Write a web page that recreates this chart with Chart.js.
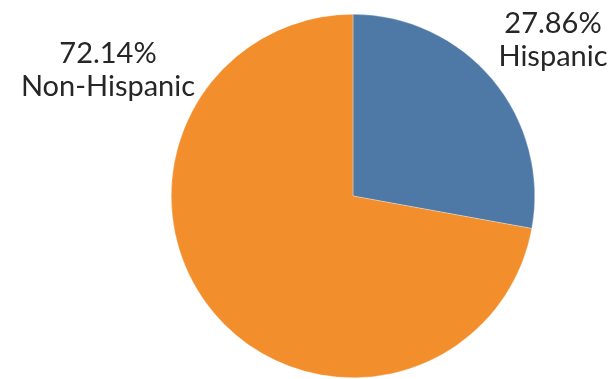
<!DOCTYPE html>
<html>
<head>
<meta charset="utf-8">
<script src="https://cdn.jsdelivr.net/npm/chart.js@4"></script>
<style>
  html, body { margin: 0; padding: 0; background: #ffffff; }
  #wrap { width: 615px; height: 379px; }
</style>
</head>
<body>
<div id="wrap"><canvas id="pieChart" width="615" height="379"></canvas></div>
<script>
const categories = ['Hispanic', 'Non-Hispanic'];
const shares = [27.86, 72.14];
const sliceColors = ['#4e79a7', '#f28e2b'];

// where each two-line label sits (centre x, first baseline)
const labelSpots = [
  { x: 553, y: 33 },
  { x: 108, y: 63 }
];

const outsideLabels = {
  id: 'outsideLabels',
  afterDraw(chart) {
    const ctx = chart.ctx;
    ctx.save();
    ctx.fillStyle = '#262626';
    ctx.textAlign = 'center';
    ctx.textBaseline = 'alphabetic';
    ctx.font = '29px Lato';
    categories.forEach((name, i) => {
      const p = labelSpots[i];
      ctx.fillText(shares[i].toFixed(2) + '%', p.x, p.y);
      ctx.fillText(name, p.x, p.y + 33);
    });
    ctx.restore();
  }
};

new Chart(document.getElementById('pieChart'), {
  type: 'pie',
  data: {
    labels: categories,
    datasets: [{
      data: shares,
      backgroundColor: sliceColors,
      borderColor: 'rgba(255,255,255,0.6)',
      borderWidth: 0.5
    }]
  },
  options: {
    responsive: false,
    animation: false,
    layout: {
      padding: { top: 14, bottom: 1, left: 171, right: 80 }
    },
    plugins: {
      legend: { display: false },
      tooltip: { enabled: false }
    }
  },
  plugins: [outsideLabels]
});
</script>
</body>
</html>
